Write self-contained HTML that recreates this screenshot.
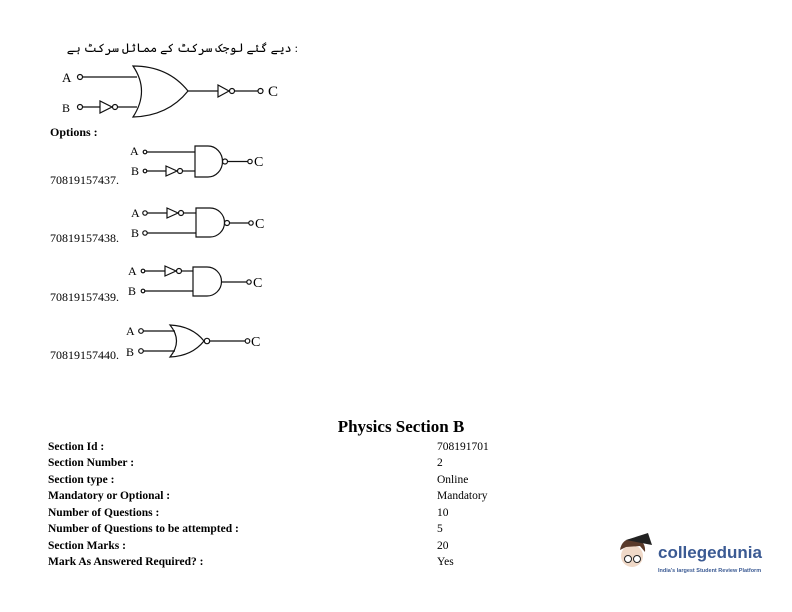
<!DOCTYPE html>
<html><head><meta charset="utf-8"><style>
body{margin:0;background:#fff;width:792px;height:612px;overflow:hidden}
svg{display:block}
text{font-family:"Liberation Serif",serif;fill:#000}
.b{font-weight:bold}
</style></head><body>
<svg width="792" height="612" viewBox="0 0 792 612" fill="none" stroke="#111" stroke-width="1.2">
<text x="298" y="52" font-size="12" stroke="none" text-anchor="end" font-family="'Noto Sans CJK SC',serif">دیے گئے لوجک سرکٹ کے مماثل سرکٹ ہے :</text>
<g>
<circle cx="80" cy="77" r="2.5"/><line x1="82.5" y1="77" x2="137" y2="77"/>
<circle cx="80" cy="107" r="2.5"/><line x1="82.5" y1="107" x2="100" y2="107"/>
<path d="M100 101 L100 113 L112 107 Z"/><circle cx="115" cy="107" r="2.5"/><line x1="117.5" y1="107" x2="137" y2="107"/>
<path d="M133 66 Q168 66 188 91 Q168 116 133 117 Q150 91 133 66 Z"/>
<line x1="188" y1="91" x2="218" y2="91"/>
<path d="M218 85 L218 97 L229 91 Z"/><circle cx="232" cy="91" r="2.5"/><line x1="234.5" y1="91" x2="258" y2="91"/><circle cx="260.5" cy="91" r="2.5"/>
</g>
<text x="62" y="82" font-size="13" stroke="none">A</text>
<text x="62" y="112" font-size="12" stroke="none">B</text>
<text x="268" y="96" font-size="15" stroke="none">C</text>
<text x="50" y="136" font-size="12" class="b" stroke="none">Options :</text>
<g>
<circle cx="145" cy="152" r="1.8"/><line x1="147" y1="152" x2="195" y2="152"/>
<circle cx="145" cy="171" r="1.8"/><line x1="147" y1="171" x2="166" y2="171"/>
<path d="M166 166 L166 176 L177 171 Z"/><circle cx="180" cy="171" r="2.5"/><line x1="182.5" y1="171" x2="195" y2="171"/>
<path d="M195 146 L208 146 A14.5 15.5 0 0 1 208 177 L195 177 Z"/>
<circle cx="225" cy="161.5" r="2.5"/><line x1="227.5" y1="161.5" x2="248" y2="161.5"/><circle cx="250" cy="161.5" r="2.2"/>
</g>
<text x="130" y="155" font-size="12" stroke="none">A</text><text x="131" y="175" font-size="12" stroke="none">B</text><text x="254" y="166" font-size="14" stroke="none">C</text>
<text x="50" y="184" font-size="12" stroke="none">70819157437.</text>
<g>
<circle cx="145" cy="213" r="2.2"/><line x1="147" y1="213" x2="167" y2="213"/>
<path d="M167 208 L167 218 L178 213 Z"/><circle cx="181" cy="213" r="2.5"/><line x1="183.5" y1="213" x2="196" y2="213"/>
<circle cx="145" cy="233" r="2.2"/><line x1="147" y1="233" x2="196" y2="233"/>
<path d="M196 208 L210 208 A14.5 14.5 0 0 1 210 237 L196 237 Z"/>
<circle cx="227" cy="223" r="2.5"/><line x1="229.5" y1="223" x2="249" y2="223"/><circle cx="251" cy="223" r="2.2"/>
</g>
<text x="131" y="217" font-size="12" stroke="none">A</text><text x="131" y="237" font-size="12" stroke="none">B</text><text x="255" y="228" font-size="14" stroke="none">C</text>
<text x="50" y="242" font-size="12" stroke="none">70819157438.</text>
<g>
<circle cx="143" cy="271" r="1.8"/><line x1="145" y1="271" x2="165" y2="271"/>
<path d="M165 266 L165 276 L176 271 Z"/><circle cx="179" cy="271" r="2.5"/><line x1="181.5" y1="271" x2="193" y2="271"/>
<circle cx="143" cy="291" r="1.8"/><line x1="145" y1="291" x2="193" y2="291"/>
<path d="M193 267 L207 267 A14.5 14.5 0 0 1 207 296 L193 296 Z"/>
<line x1="221.5" y1="282" x2="247" y2="282"/><circle cx="249" cy="282" r="2.2"/>
</g>
<text x="128" y="275" font-size="12" stroke="none">A</text><text x="128" y="295" font-size="12" stroke="none">B</text><text x="253" y="287" font-size="14" stroke="none">C</text>
<text x="50" y="301" font-size="12" stroke="none">70819157439.</text>
<g>
<circle cx="141" cy="331" r="2.3"/><line x1="143.3" y1="331" x2="175" y2="331"/>
<circle cx="141" cy="351" r="2.3"/><line x1="143.3" y1="351" x2="175" y2="351"/>
<path d="M170 325 Q192 326 204 341 Q192 356 170 357 Q183 341 170 325 Z"/>
<circle cx="207" cy="341" r="2.7"/><line x1="209.7" y1="341" x2="245" y2="341"/><circle cx="247.5" cy="341" r="2.3"/>
</g>
<text x="126" y="335" font-size="12" stroke="none">A</text><text x="126" y="356" font-size="12" stroke="none">B</text><text x="251" y="346" font-size="14" stroke="none">C</text>
<text x="50" y="359" font-size="12" stroke="none">70819157440.</text>
<g stroke="none">
<text x="401" y="432" font-size="17" class="b" text-anchor="middle">Physics Section B</text>
<g font-size="11.5">
<text x="48" y="450" class="b">Section Id :</text>
<text x="48" y="466" class="b">Section Number :</text>
<text x="48" y="483" class="b">Section type :</text>
<text x="48" y="499" class="b">Mandatory or Optional :</text>
<text x="48" y="516" class="b">Number of Questions :</text>
<text x="48" y="532" class="b">Number of Questions to be attempted :</text>
<text x="48" y="549" class="b">Section Marks :</text>
<text x="48" y="565" class="b">Mark As Answered Required? :</text>
</g>
<g font-size="11.5">
<text x="437" y="450">708191701</text>
<text x="437" y="466">2</text>
<text x="437" y="483">Online</text>
<text x="437" y="499">Mandatory</text>
<text x="437" y="516">10</text>
<text x="437" y="532">5</text>
<text x="437" y="549">20</text>
<text x="437" y="565">Yes</text>
</g>
</g>
<g stroke="none">
<circle cx="632" cy="556" r="11" fill="#f0d9c8"/>
<path d="M620 550 Q622 538 634 539 Q646 540 645 552 L640 546 L626 547 Z" fill="#5a3a2a"/>
<path d="M626 540 L648 533 L652 545 Z" fill="#222"/>
<circle cx="628" cy="559" r="3.5" fill="#fff" stroke="#222" stroke-width="1"/>
<circle cx="637" cy="559" r="3.5" fill="#fff" stroke="#222" stroke-width="1"/>
<text x="658" y="558" font-size="17" style="fill:#3b5a93;font-family:'Liberation Sans',sans-serif;font-weight:bold">collegedunia</text>
<text x="658" y="572" font-size="5.5" style="fill:#3b5a93;font-family:'Liberation Sans',sans-serif;font-weight:bold">India's largest Student Review Platform</text>
</g>
</svg>
</body></html>
